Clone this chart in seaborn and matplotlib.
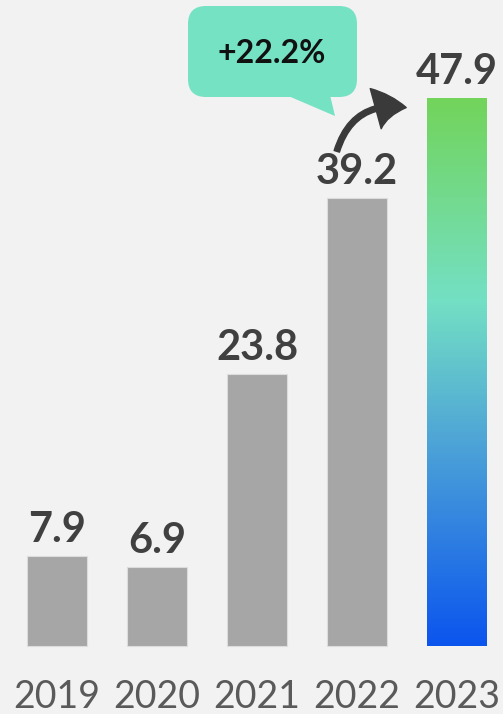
import numpy as np
import pandas as pd
import matplotlib
matplotlib.use("Agg")
import matplotlib.pyplot as plt
import seaborn as sns
from matplotlib.colors import LinearSegmentedColormap
from matplotlib.patches import FancyBboxPatch, Polygon, FancyArrowPatch

years = ["2019", "2020", "2021", "2022", "2023"]
values = [7.9, 6.9, 23.8, 39.2, 47.9]
growth_label = "+22.2%"

bg = "#f2f2f2"
bar_grey = "#a6a6a6"
label_dark = "#404040"
year_grey = "#5a5a5a"
bubble = "#74e2c3"

sns.set_theme(style="white")
plt.rcParams["font.family"] = ["Lato", "DejaVu Sans"]

W, H = 503, 714
fig = plt.figure(figsize=(W / 100, H / 100), dpi=100, facecolor=bg)
ax = fig.add_axes([0, 0, 1, 1])
ax.set_facecolor(bg)

df = pd.DataFrame({"year": years, "value": values})
sns.barplot(data=df, x="year", y="value", color=bar_grey, width=0.6,
            saturation=1, edgecolor="#dcdcdc", linewidth=0.8, ax=ax)

# pixel scale: 100 px per category step, bars start 68 px above the bottom
px_per_unit = 548 / 47.9
xlim = (-0.57, (W - 57) / 100)
ylim = (-68 / px_per_unit, (H - 68) / px_per_unit)

# gradient fill for the latest year
last = ax.patches[-1]
x0, w, h = last.get_x(), last.get_width(), last.get_height()
cmap = LinearSegmentedColormap.from_list(
    "grad", [(0.0, "#0b55ee"), (0.38, "#4fa6d6"), (0.63, "#74e0c4"), (1.0, "#72d45a")])
grad = np.linspace(0, 1, 256).reshape(-1, 1)
im = ax.imshow(grad, cmap=cmap, origin="lower", aspect="auto",
               extent=[x0, x0 + w, 0, h], zorder=3)
im.set_clip_path(last)
last.set_facecolor("none")
last.set_edgecolor("none")
ax.set_xlim(*xlim)
ax.set_ylim(*ylim)
ax.axis("off")

# value labels
for i, v in enumerate(values):
    ax.text(i, v + 14 / px_per_unit, f"{v:.1f}", ha="center", va="baseline",
            fontsize=30, fontweight="bold", color=label_dark, zorder=5)

# year labels
for i, y in enumerate(years):
    ax.text(i, -62 / px_per_unit, y, ha="center", va="baseline",
            fontsize=27, color=year_grey, zorder=5)

# overlay in pixel coordinates for the callout and arrow
ov = fig.add_axes([0, 0, 1, 1], facecolor="none")
ov.set_xlim(0, W)
ov.set_ylim(H, 0)
ov.axis("off")

box = FancyBboxPatch((188 + 18, 6 + 18), 169 - 36, 91 - 36,
                     boxstyle="round,pad=18", facecolor=bubble,
                     edgecolor="none", zorder=4)
ov.add_patch(box)
ov.add_patch(Polygon([(286, 95), (330, 95), (335, 116)], closed=True,
                     facecolor=bubble, edgecolor="none", zorder=4))
ov.text(272, 63, growth_label, ha="center", va="baseline", fontsize=23,
        fontweight="bold", color="#111111", zorder=5)

arrow = FancyArrowPatch((336, 154), (409, 108),
                        connectionstyle="arc3,rad=-0.45",
                        arrowstyle="simple,tail_width=4,head_width=30,head_length=22",
                        color="#3a3a3a", zorder=5, mutation_scale=1)
ov.add_patch(arrow)

fig.savefig("out.png", dpi=100, facecolor=bg)
